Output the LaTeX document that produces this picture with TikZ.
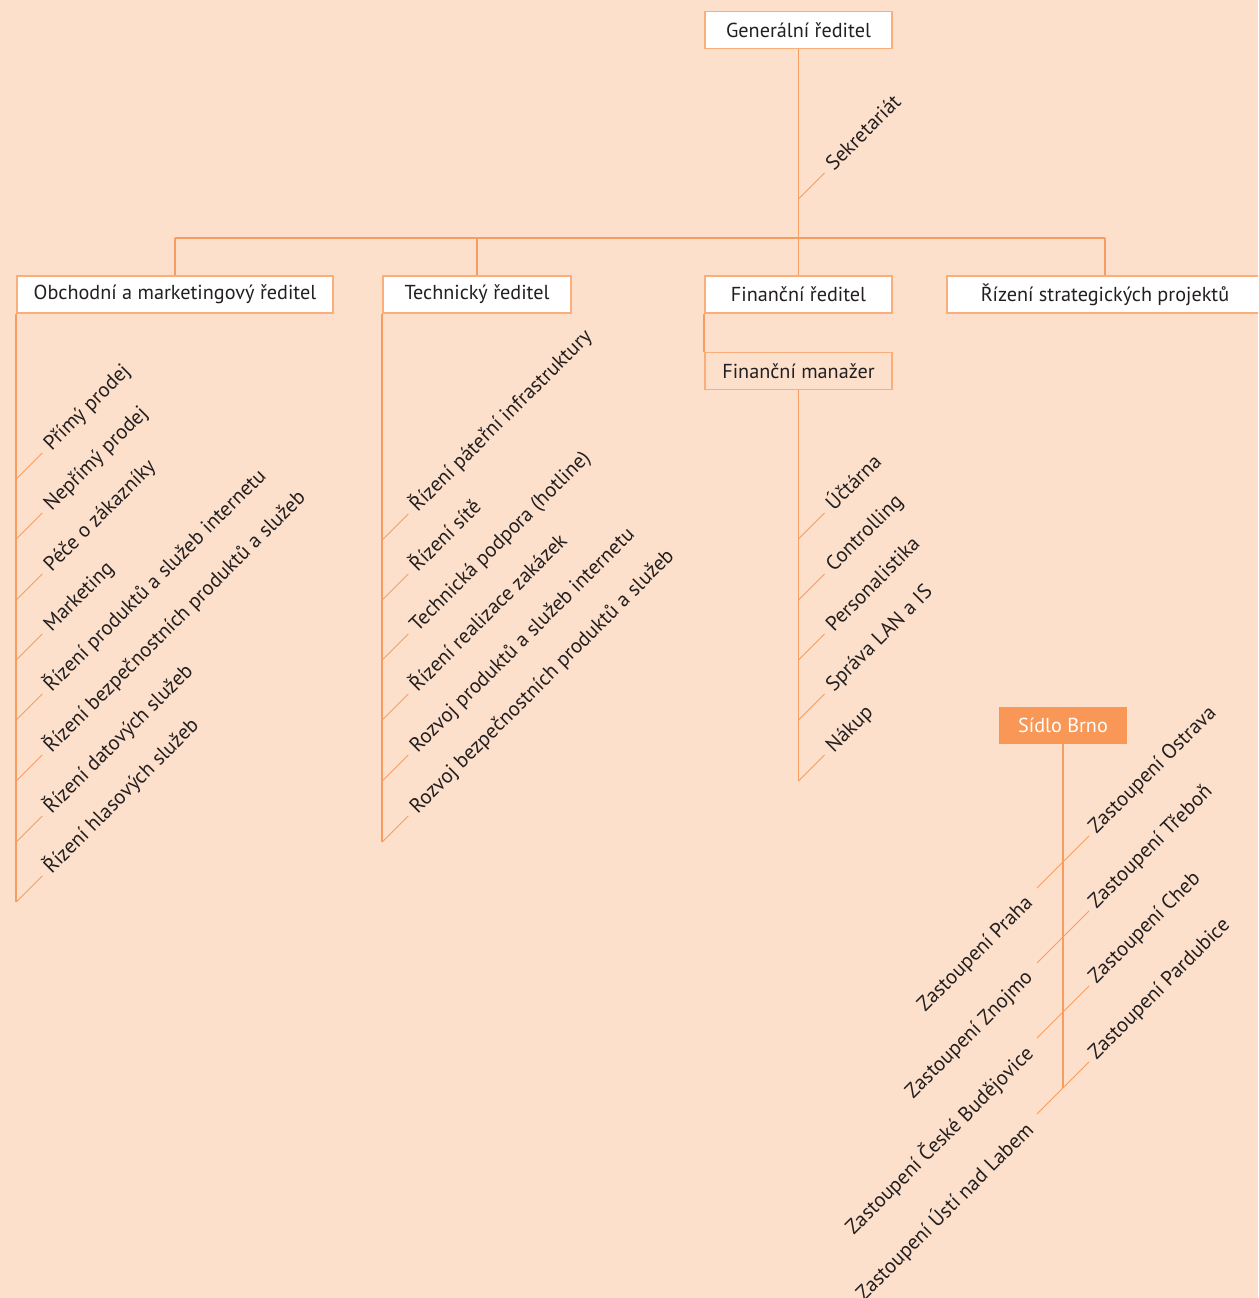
\documentclass[tikz,border=0pt]{standalone}
\usepackage{fontspec}
\setmainfont{PT Sans}
\usepackage{tikz}
\usetikzlibrary{positioning,calc}
\definecolor{peach}{RGB}{253,224,203}
\definecolor{orgline}{RGB}{246,158,98}
\definecolor{orgbox}{RGB}{250,174,122}
\definecolor{orgfill}{RGB}{249,152,86}
\definecolor{txtgray}{RGB}{35,31,32}

\begin{document}
\begin{tikzpicture}[
  x=0.02cm, y=-0.02cm,
  every node/.style={font=\fontsize{11.5}{13}\selectfont, text=txtgray},
  box/.style={draw=orgbox, fill=white, line width=0.8pt, minimum height=0.74cm, inner sep=0pt},
  subbox/.style={box, fill=peach},
  brnobox/.style={fill=orgfill, text=white, minimum width=2.56cm, minimum height=0.74cm, inner sep=0pt},
  line/.style={draw=orgline, line width=1pt},
  tick/.style={draw=orgline, line width=0.5pt},
  item/.style={rotate=45, anchor=base west, inner sep=1pt, font=\fontsize{11.8}{13}\selectfont},
  itemleft/.style={rotate=45, anchor=east, inner ysep=0pt, inner xsep=4pt, font=\fontsize{11.8}{13}\selectfont}
]
  \useasboundingbox (0,0) rectangle (1258,1298);
  \fill[peach] (0,0) rectangle (1258,1298);
  \clip (0,0) rectangle (1258,1298);

  % boxes
  \node[box, minimum width=3.74cm] (gen) at (798.5,30) {Generální ředitel};
  \node[box, minimum width=6.32cm] (obch) at (175,294.5) {Obchodní a marketingový ředitel};
  \node[box, minimum width=3.76cm] (tech) at (477,294.5) {Technický ředitel};
  \node[box, minimum width=3.74cm] (fin) at (798.5,294.5) {Finanční ředitel};
  \node[box, minimum width=6.32cm] (strat) at (1105,294.5) {Řízení strategických projektů};
  \node[subbox, minimum width=3.74cm, below=0.76cm of fin] (finman) {Finanční manažer};
  \node[brnobox] (brno) at (1063,725.5) {Sídlo Brno};

  % top level
  \coordinate (bus) at (798.5,238);
  \draw[line] (gen.south) -- (gen.south |- bus);
  \draw[line] (obch.north |- bus) -- (strat.north |- bus);
  \foreach \b in {obch,tech,fin,strat}
    \draw[line] (\b.north |- bus) -- (\b.north);
  \coordinate (sek) at (798.5,199);
  \coordinate (seke) at ($(sek)+(26,-26)$);
  \node[item] (sekt) at ($(seke)+(8,0)$) {Sekretariát};
  \draw[tick] (sek) -- (seke);

  % obchodni
  \draw[line] (obch.south west) -- (obch.south west |- 0,902);
  \foreach \i/\y/\t in {
    1/479/Přímý prodej, 2/539/Nepřímý prodej, 3/600/Péče o zákazníky,
    4/660/Marketing, 5/720/Řízení produktů a služeb internetu,
    6/781/Řízení bezpečnostních produktů a služeb,
    7/842/Řízení datových služeb, 8/902/Řízení hlasových služeb
  } {
    \coordinate (o\i) at (obch.south west |- 0,\y);
    \coordinate (oe\i) at ($(o\i)+(26,-26)$);
    \node[item] (ot\i) at ($(oe\i)+(8,0)$) {\t};
    \draw[tick] (o\i) -- (oe\i);
  }

  % technicky
  \draw[line] (tech.south west) -- (tech.south west |- 0,842);
  \foreach \i/\y/\t in {
    1/540/Řízení páteřní infrastruktury, 2/600/Řízení sítě,
    3/660/Technická podpora (hotline), 4/720/Řízení realizace zakázek,
    5/781/Rozvoj produktů a služeb internetu,
    6/842/Rozvoj bezpečnostních produktů a služeb
  } {
    \coordinate (t\i) at (tech.south west |- 0,\y);
    \coordinate (te\i) at ($(t\i)+(26,-26)$);
    \node[item] (tt\i) at ($(te\i)+(8,0)$) {\t};
    \draw[tick] (t\i) -- (te\i);
  }

  % financni
  \draw[line] (fin.south west) -- (finman.north west);
  \draw[line] (finman.south) -- (finman.south |- 0,781);
  \foreach \i/\y/\t in {
    1/539/Účtárna, 2/600/Controlling, 3/660/Personalistika,
    4/720/Správa LAN a IS, 5/781/Nákup
  } {
    \coordinate (f\i) at (finman.south |- 0,\y);
    \coordinate (fe\i) at ($(f\i)+(26,-26)$);
    \node[item] (ft\i) at ($(fe\i)+(8,0)$) {\t};
    \draw[tick] (f\i) -- (fe\i);
  }

  % brno
  \draw[line] (brno.south) -- (brno.south |- 0,1088);
  \foreach \i/\y/\l/\r in {
    1/862/Praha/Ostrava, 2/937/Znojmo/Třeboň,
    3/1012/České Budějovice/Cheb, 4/1088/Ústí nad Labem/Pardubice
  } {
    \coordinate (b\i) at (brno.south |- 0,\y);
    \coordinate (bl\i) at ($(b\i)+(-26,26)$);
    \coordinate (be\i) at ($(b\i)+(26,-26)$);
    \node[item] (br\i) at ($(be\i)+(6,0)$) {Zastoupení \r};
    \node[itemleft] (bt\i) at ($(bl\i)+(-2,7)$) {Zastoupení \l};
    \draw[tick] (bl\i) -- (be\i);
  }
\end{tikzpicture}
\end{document}
